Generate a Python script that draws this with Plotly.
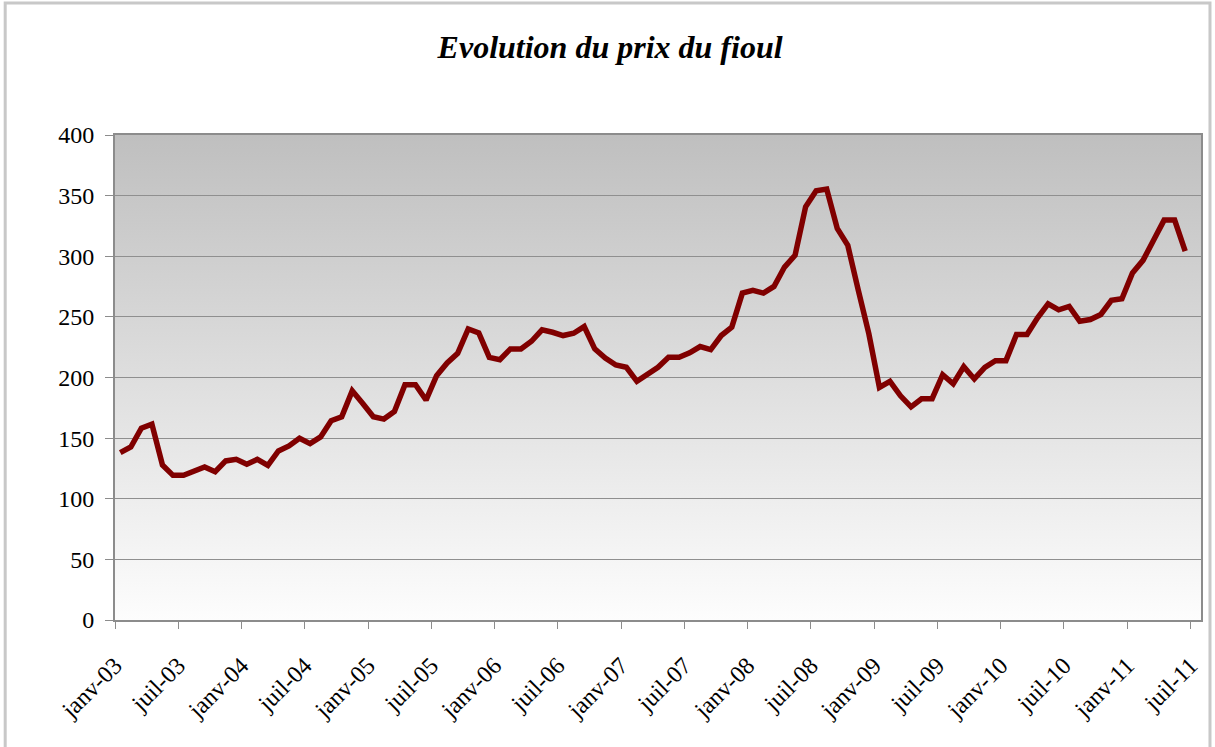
import base64
import plotly.graph_objects as go

# ---- data ----
start_year = 2003
start_month = 1
prices = [
    138.0, 142.7, 158.2, 161.5, 127.8, 119.3, 119.3, 122.9, 126.2, 122.3, 131.2, 132.5,
    128.4, 132.5, 127.6, 139.4, 143.6, 149.9, 145.5, 151.0, 164.3, 167.6, 189.0, 178.6,
    167.6, 165.7, 172.0, 194.0, 194.0, 181.4, 201.5, 212.0, 220.0, 240.1, 236.8, 216.6,
    214.7, 223.6, 223.6, 229.9, 239.3, 237.3, 234.6, 236.5, 242.0, 223.6, 216.1, 210.3,
    208.4, 196.8, 202.9, 208.4, 216.6, 216.6, 220.3, 225.5, 223.0, 234.6, 241.5, 269.6,
    271.8, 269.6, 275.1, 291.1, 300.8, 340.8, 354.0, 355.4, 322.9, 309.0, 271.8, 236.0,
    191.8, 196.8, 184.9, 175.8, 182.5, 182.5, 202.3, 194.8, 208.9, 198.8, 208.4, 213.9,
    213.9, 235.4, 235.4, 249.2, 260.8, 255.8, 258.6, 246.4, 247.8, 252.0, 263.6, 265.0,
    286.2, 296.6, 313.2, 329.8, 329.8, 304.3,
]
tick_labels = [
    "janv-03", "juil-03", "janv-04", "juil-04", "janv-05", "juil-05", "janv-06",
    "juil-06", "janv-07", "juil-07", "janv-08", "juil-08", "janv-09", "juil-09",
    "janv-10", "juil-10", "janv-11", "juil-11",
]
y_ticks = [0, 50, 100, 150, 200, 250, 300, 350, 400]
title_text = "Evolution du prix du fioul"

# month index positions (points centred between month tick marks)
x_pos = [i + 0.5 for i in range(len(prices))]
tick_pos = [6 * k for k in range(len(tick_labels))]
n_months = len(prices) + 1

W, H = 1215, 747
L, R, T, B = 115, 12, 135, 127
plot_w = W - L - R
plot_h = H - T - B

SERIF = "Liberation Serif, Times New Roman, serif"

# vertical gradient background for the plot area (SVG data URI)
svg = (
    '<svg xmlns="http://www.w3.org/2000/svg" width="100" height="100" preserveAspectRatio="none">'
    '<defs><linearGradient id="g" x1="0" y1="0" x2="0" y2="1">'
    '<stop offset="0" stop-color="#bfbfbf"/><stop offset="1" stop-color="#fdfdfd"/>'
    '</linearGradient></defs><rect width="100" height="100" fill="url(#g)"/></svg>'
)
svg_uri = "data:image/svg+xml;base64," + base64.b64encode(svg.encode()).decode()

fig = go.Figure()
fig.add_trace(go.Scatter(
    x=x_pos, y=prices, mode="lines",
    line=dict(color="#800000", width=5.5),
    hoverinfo="y", showlegend=False,
))

def px_x(px):
    return (px - L) / plot_w

def px_y(py):
    return 1 - (py - T) / plot_h

fig.update_layout(
    width=W, height=H,
    margin=dict(l=L, r=R, t=T, b=B),
    paper_bgcolor="white",
    plot_bgcolor="rgba(0,0,0,0)",
    title=dict(
        text="<b><i>" + title_text + "</i></b>",
        font=dict(family=SERIF, size=32, color="black"),
        x=px_x(611), xref="paper", xanchor="center",
        y=1 - 47 / H, yref="container", yanchor="middle",
    ),
    images=[dict(
        source=svg_uri, xref="paper", yref="paper",
        x=0, y=1, sizex=1, sizey=1, sizing="stretch",
        xanchor="left", yanchor="top", layer="below",
    )],
    shapes=[dict(
        type="rect", xref="paper", yref="paper",
        x0=px_x(5), x1=px_x(1212), y0=px_y(752), y1=px_y(3),
        line=dict(color="#c8c8c8", width=3), fillcolor="rgba(0,0,0,0)",
        layer="below",
    )],
    xaxis=dict(
        range=[0, n_months],
        tickmode="array", tickvals=tick_pos, ticktext=tick_labels,
        tickangle=-45,
        tickfont=dict(family=SERIF, size=24, color="black"),
        ticks="outside", ticklen=7, tickcolor="#8c8c8c", tickwidth=1,
        showgrid=False, zeroline=False,
        showline=True, linecolor="#8c8c8c", linewidth=2, mirror=True,
        ticklabelstandoff=13,
    ),
    yaxis=dict(
        range=[0, 400],
        tickmode="array", tickvals=y_ticks,
        tickfont=dict(family=SERIF, size=24, color="black"),
        ticks="outside", ticklen=8, tickcolor="#8c8c8c", tickwidth=1,
        showgrid=True, gridcolor="#8f8f8f", gridwidth=1,
        zeroline=False,
        showline=True, linecolor="#8c8c8c", linewidth=2, mirror=True,
        ticklabelstandoff=6,
    ),
)

fig.write_html(
    "out.html",
    config={"displayModeBar": False},
    post_script="document.body.style.margin='0';document.body.style.overflow='hidden';",
)
